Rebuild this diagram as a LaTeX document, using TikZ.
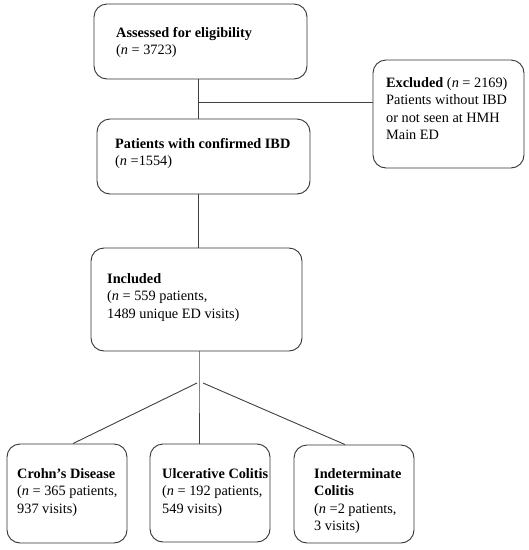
\documentclass[tikz,border=0pt]{standalone}
\usepackage{fontspec}
\setmainfont{Liberation Serif}
\begin{document}
\begin{tikzpicture}[x=1pt,y=-1pt,
  box/.style={draw=black!80,line width=0.9pt,rounded corners=13pt,inner sep=0pt,minimum width=#1},
  txt/.style={anchor=base west,inner sep=0pt,font=\fontsize{14.3}{17.6}\selectfont},
  conn/.style={draw=black!75,line width=0.9pt}]
\useasboundingbox (0,0) rectangle (529,550);
% boxes
\node[box=213pt,minimum height=75pt] (b1) at (200.5,41.5) {};
\node[box=213pt,minimum height=75pt] (b2) at (203.5,156.5) {};
\node[box=211pt,minimum height=103pt] (b3) at (196.5,299.5) {};
\node[box=151pt,minimum height=108pt] (ex) at (448.5,114) {};
\node[box=120pt,minimum height=99pt] (cd) at (67,493.5) {};
\node[box=120pt,minimum height=98pt] (uc) at (210,493) {};
\node[box=120pt,minimum height=98pt] (ic) at (354,494) {};
% texts
\node[txt] (t1) at (116,37) {\parbox[t]{200pt}{\textbf{Assessed for eligibility}\\(\textit{n} = 3723)}};
\node[txt] (t2) at (115,148) {\parbox[t]{200pt}{\textbf{Patients with confirmed IBD}\\(\textit{n} =1554)}};
\node[txt] (t3) at (107,283) {\parbox[t]{200pt}{\textbf{Included}\\(\textit{n} = 559 patients,\\1489 unique ED visits)}};
\node[txt] (tx) at (386,87) {\parbox[t]{140pt}{\textbf{Excluded} (\textit{n} = 2169)\\Patients without IBD\\or not seen at HMH\\Main ED}};
\node[txt] (tc) at (17,478) {\parbox[t]{120pt}{\textbf{Crohn’s Disease}\\(\textit{n} = 365 patients,\\937 visits)}};
\node[txt] (tu) at (162,478) {\parbox[t]{120pt}{\textbf{Ulcerative Colitis}\\(\textit{n} = 192 patients,\\549 visits)}};
\node[txt] (ti) at (314,478) {\parbox[t]{120pt}{\textbf{Indeterminate}\\\textbf{Colitis}\\(\textit{n} =2 patients,\\3 visits)}};
% junctions
\coordinate (j1) at (198,102);
\coordinate (sp) at (199,383);
\coordinate (sL) at (197,383);
\coordinate (sR) at (203,383);
\coordinate (cL) at (73,444);
\coordinate (cR) at (345,444);
% connectors
\draw[conn] (b1.south -| j1) -- (b2.north -| j1);
\draw[conn] (j1) -- (j1 -| ex.west);
\draw[conn] (b2.south -| j1) -- (b3.north -| j1);
\draw[conn] (b3.south -| sp) -- (sp) -- (uc.north -| sp);
\draw[conn] (sL) -- (cd.north -| cL);
\draw[conn] (sR) -- (ic.north -| cR);
\end{tikzpicture}
\end{document}
